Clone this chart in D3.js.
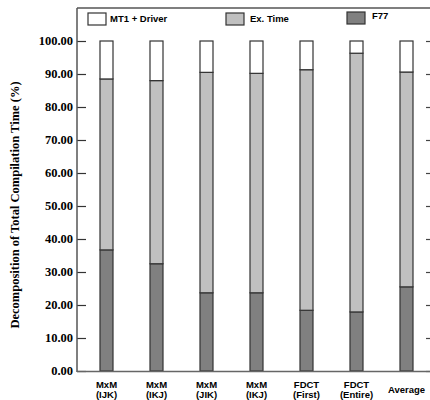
<!DOCTYPE html>
<html>
<head>
<meta charset="utf-8">
<script src="https://cdn.jsdelivr.net/npm/d3@7"></script>
<style>
  html, body { margin: 0; padding: 0; background: #fff; }
  svg { display: block; }
</style>
</head>
<body>
<svg id="chart" width="430" height="400"></svg>
<script>
// Benchmarks (two-line labels split on "\n")
const categories = ["MxM\n(IJK)", "MxM\n(IKJ)", "MxM\n(JIK)", "MxM\n(IKJ)", "FDCT\n(First)", "FDCT\n(Entire)", "Average"];
// Share of total compilation time (%), stacked bottom to top: F77, Ex. Time, MT1 + Driver
const f77 = [36.7, 32.5, 23.7, 23.7, 18.4, 17.9, 25.5];
const exTime = [51.8, 55.5, 66.8, 66.5, 72.9, 78.4, 65.1];
const mt1Driver = [11.5, 12.0, 9.5, 9.8, 8.7, 3.7, 9.4];
const seriesNames = ["F77", "Ex. Time", "MT1 + Driver"];
const yTicks = [0, 10, 20, 30, 40, 50, 60, 70, 80, 90, 100];

(function () {
const svg = d3.select("#chart");
const mLeft = 77, mRight = 435, mTop = 8, mBottom = 371;

const x = d3.scaleBand()
  .domain(d3.range(categories.length))
  .range([81.5, 431.5])
  .paddingInner(0.74)
  .paddingOuter(0.37);

const y = d3.scaleLinear().domain([0, 100]).range([mBottom, 41]);

const colors = { "F77": "#808080", "Ex. Time": "#c0c0c0", "MT1 + Driver": "#ffffff" };

// stacked data
const rows = categories.map((c, i) => ({ i, "F77": f77[i], "Ex. Time": exTime[i], "MT1 + Driver": mt1Driver[i] }));
const stack = d3.stack().keys(seriesNames)(rows);

// frame: top line and left/right axes
svg.append("line").attr("x1", mLeft).attr("x2", mRight).attr("y1", mTop).attr("y2", mTop)
  .attr("stroke", "#000").attr("stroke-width", 1.2);

const yAxisL = d3.axisRight(y).tickValues(yTicks).tickSize(9).tickFormat("");
const gL = svg.append("g").attr("transform", `translate(${mLeft},0)`).call(yAxisL);
gL.select(".domain").remove();
gL.selectAll(".tick line").attr("stroke", "#333").attr("stroke-width", 1.2);
svg.append("line").attr("x1", mLeft).attr("x2", mLeft).attr("y1", mTop).attr("y2", mBottom + 1)
  .attr("stroke", "#555").attr("stroke-width", 1.5);

const yAxisR = d3.axisLeft(y).tickValues(yTicks).tickSize(9).tickFormat("");
const gR = svg.append("g").attr("transform", `translate(${mRight},0)`).call(yAxisR);
gR.select(".domain").remove();
gR.selectAll(".tick line").attr("stroke", "#444").attr("stroke-width", 1.2);

// y tick labels
svg.append("g").selectAll("text").data(yTicks).join("text")
  .attr("x", 73).attr("y", d => y(d)).attr("dy", "0.35em")
  .attr("text-anchor", "end")
  .attr("font-family", "'Liberation Serif', 'Times New Roman', serif")
  .attr("font-weight", "bold").attr("font-size", 12.5)
  .text(d => d3.format(".2f")(d));

// bars
svg.append("g").selectAll("g").data(stack).join("g")
  .attr("fill", d => colors[d.key])
  .selectAll("rect").data(d => d).join("rect")
  .attr("x", d => x(d.data.i))
  .attr("y", d => y(d[1]))
  .attr("width", x.bandwidth())
  .attr("height", d => y(d[0]) - y(d[1]))
  .attr("stroke", "#333").attr("stroke-width", 1.2);

// bottom axis line
svg.append("line").attr("x1", mLeft).attr("x2", mRight).attr("y1", mBottom + 0.5).attr("y2", mBottom + 0.5)
  .attr("stroke", "#666").attr("stroke-width", 1.6);

// x labels
const xl = svg.append("g").selectAll("text").data(categories).join("text")
  .attr("x", (d, i) => x(i) + x.bandwidth() / 2)
  .attr("text-anchor", "middle")
  .attr("font-family", "'Liberation Sans', Arial, Helvetica, sans-serif")
  .attr("font-weight", "bold").attr("font-size", 9.5);
xl.each(function (d) {
  const lines = d.split("\n");
  const t = d3.select(this);
  const y0 = lines.length === 1 ? 393 : 388;
  lines.forEach((ln, k) => {
    t.append("tspan").attr("x", t.attr("x")).attr("y", y0 + k * 10).text(ln);
  });
});

// y axis title
svg.append("text")
  .attr("transform", "translate(19,205) rotate(-90)")
  .attr("text-anchor", "middle")
  .attr("font-family", "'Liberation Serif', 'Times New Roman', serif")
  .attr("font-weight", "bold").attr("font-size", 12.5)
  .text("Decomposition of Total Compilation Time (%)");

// legend
const legend = [
  { key: "MT1 + Driver", bx: 88, by: 13, tx: 110, ty: 22 },
  { key: "Ex. Time", bx: 226, by: 13, tx: 250, ty: 22 },
  { key: "F77", bx: 347, by: 12, tx: 372, ty: 19 }
];
const lg = svg.append("g").selectAll("g").data(legend).join("g");
lg.append("rect")
  .attr("x", d => d.bx).attr("y", d => d.by).attr("width", 18).attr("height", 12)
  .attr("fill", d => colors[d.key]).attr("stroke", "#333").attr("stroke-width", 1.2);
lg.append("text")
  .attr("x", d => d.tx).attr("y", d => d.ty)
  .attr("font-family", "'Liberation Sans', Arial, Helvetica, sans-serif")
  .attr("font-weight", "bold").attr("font-size", 9.5)
  .text(d => d.key);
})();
</script>
</body>
</html>
